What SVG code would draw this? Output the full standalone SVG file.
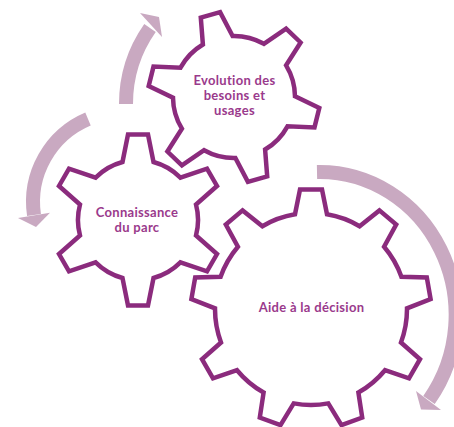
<svg xmlns="http://www.w3.org/2000/svg" width="454" height="427" viewBox="0 0 454 427">
<style>
.gear{fill:#ffffff;stroke:#8b2b7d;stroke-width:4.5;stroke-linejoin:miter}
.lbl{font-family:Lato,"Open Sans","DejaVu Sans",sans-serif;font-weight:bold;font-size:13px;letter-spacing:0.3px;fill:#9a3a8c;text-anchor:middle}
.shaft{fill:none;stroke:#c9a9c1;stroke-width:14;stroke-linecap:butt}
.head{fill:#c9a9c1}
</style>
<rect width="454" height="427" fill="#ffffff"/>
<g id="connectors">
<path class="shaft" d="M 126 104 A 132 132 0 0 1 150 28"/>
<polygon class="head" points="140,13 159,17 162,37"/>
<path class="shaft" d="M 88 119 A 90 90 0 0 0 34 215"/>
<polygon class="head" points="18,218 36,227 50,212.7"/>
<path class="shaft" d="M 317 172 A 136 143 0 0 1 429 400"/>
<polygon class="head" points="416,391 421,409.5 441,410"/>
</g>
<g id="gear-evolution">
<path class="gear" d="M 295.0 96.3 L 319.3 108.0 L 314.5 127.4 L 287.5 126.3 A 61 61 0 0 1 265.1 149.5 L 267.2 176.4 L 247.9 181.9 L 235.4 158.0 A 61 61 0 0 1 204.1 150.2 L 181.9 165.4 L 167.4 151.5 L 181.9 128.7 A 61 61 0 0 1 173.0 97.7 L 148.7 86.0 L 153.5 66.6 L 180.5 67.7 A 61 61 0 0 1 202.9 44.5 L 200.8 17.6 L 220.1 12.1 L 232.6 36.0 A 61 61 0 0 1 263.9 43.8 L 286.1 28.6 L 300.6 42.5 L 286.1 65.3 A 61 61 0 0 1 295.0 96.3 Z"/>
<text class="lbl" x="234.5" y="85">Evolution des</text>
<text class="lbl" x="234.5" y="100">besoins et</text>
<text class="lbl" x="234.5" y="115">usages</text>
</g>
<g id="gear-connaissance">
<path class="gear" d="M 122.5 162.0 L 128.0 134.6 L 148.0 134.6 L 153.5 162.0 A 60 60 0 0 1 180.4 177.6 L 207.0 168.6 L 217.0 186.0 L 196.0 204.5 A 60 60 0 0 1 196.0 235.5 L 217.0 254.0 L 207.0 271.4 L 180.4 262.4 A 60 60 0 0 1 153.5 278.0 L 148.0 305.4 L 128.0 305.4 L 122.5 278.0 A 60 60 0 0 1 95.6 262.4 L 69.0 271.4 L 59.0 254.0 L 80.0 235.5 A 60 60 0 0 1 80.0 204.5 L 59.0 186.0 L 69.0 168.6 L 95.6 177.6 A 60 60 0 0 1 122.5 162.0 Z"/>
<text class="lbl" x="137" y="216.5">Connaissance</text>
<text class="lbl" x="137" y="231.5">du parc</text>
</g>
<g id="gear-aide">
<path class="gear" d="M 295.0 214.3 L 300.0 189.5 L 322.0 189.5 L 327.0 214.3 A 96 96 0 0 1 359.6 226.2 L 379.4 210.4 L 396.2 224.5 L 384.1 246.8 A 96 96 0 0 1 401.4 276.8 L 426.8 277.4 L 430.6 299.1 L 407.0 308.3 A 96 96 0 0 1 401.0 342.5 L 420.0 359.2 L 409.0 378.3 L 385.0 370.2 A 96 96 0 0 1 358.4 392.5 L 362.2 417.5 L 341.5 425.1 L 328.3 403.4 A 96 96 0 0 1 293.7 403.4 L 280.5 425.1 L 259.8 417.5 L 263.6 392.5 A 96 96 0 0 1 237.0 370.2 L 213.0 378.3 L 202.0 359.2 L 221.0 342.5 A 96 96 0 0 1 215.0 308.3 L 191.4 299.1 L 195.2 277.4 L 220.6 276.8 A 96 96 0 0 1 237.9 246.8 L 225.8 224.5 L 242.6 210.4 L 262.4 226.2 A 96 96 0 0 1 295.0 214.3 Z"/>
<text class="lbl" x="311.5" y="312">Aide à la décision</text>
</g>
</svg>
